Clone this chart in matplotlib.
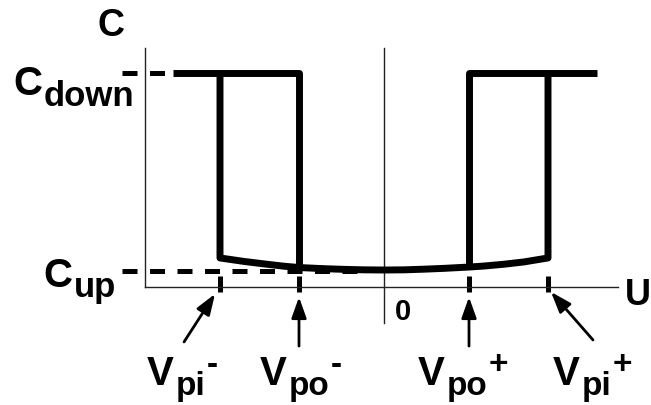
import matplotlib
matplotlib.use("Agg")
import matplotlib.pyplot as plt

# --- Switching levels and voltages (schematic units) ---
c_up = 1.0
c_down = 13.0
v_pi = 8.2
v_po = 4.25
u_top_left = -10.55
u_top_right = 10.65
u_dash_start = -13.1

# Up-state branch between the pull-in voltages
u_bottom = [-8.2, -7.0, -6.0, -5.0, -4.25, -3.0, -2.0, -1.0, 0.0,
            1.0, 2.0, 3.0, 4.25, 5.0, 6.0, 7.0, 8.2]
c_bottom = [1.76, 1.55, 1.40, 1.26, 1.18, 1.11, 1.07, 1.04, 1.03,
            1.04, 1.08, 1.13, 1.21, 1.27, 1.38, 1.52, 1.76]

# Voltage markers on the U axis: (main, subscript, superscript, position)
markers = [("V", "pi", "-", -v_pi), ("V", "po", "-", -v_po),
           ("V", "po", "+", v_po), ("V", "pi", "+", v_pi)]

FONT = "Liberation Sans"
LW = 5.0

fig = plt.figure(figsize=(6.51, 4.05), dpi=100)
ax = fig.add_axes([145 / 651, 118 / 405, 473 / 651, 239 / 405])
ax.set_xlim(-11.95, 11.7)
ax.set_ylim(0, 14.485)
for side in ("top", "right"):
    ax.spines[side].set_visible(False)
for side in ("left", "bottom"):
    ax.spines[side].set_linewidth(1.0)
    ax.spines[side].set_color("#222222")
ax.set_xticks([])
ax.set_yticks([])

# vertical C axis through U = 0, running below the U axis
ax.plot([0, 0], [14.485, -2.18], color="#222222", lw=1.0, clip_on=False)

# dashed reference levels
ax.plot([u_dash_start, u_top_left], [c_down, c_down], color="k", lw=3.6,
        dashes=(3.0, 2.5), dash_capstyle="butt", clip_on=False)
ax.plot([u_dash_start, -1.0], [c_up, c_up], color="k", lw=3.6,
        dashes=(3.0, 2.5), dash_capstyle="butt", clip_on=False)

# hysteresis loop
kw = dict(color="k", lw=LW, solid_joinstyle="round", solid_capstyle="butt", clip_on=False)
i_po_left = u_bottom.index(-v_po)
i_po_right = u_bottom.index(v_po)
ax.plot([u_top_left, -v_po, -v_po], [c_down, c_down, c_bottom[i_po_left]], **kw)
ax.plot([-v_pi] + u_bottom + [v_pi], [c_down] + c_bottom + [c_down], **kw)
ax.plot([v_po, v_po, u_top_right], [c_bottom[i_po_right], c_down, c_down], **kw)

# short marks on the U axis and arrows to the labels
tails = {(-v_pi): (-10.0, -3.33), (-v_po): (-4.25, -3.58),
         v_po: (4.25, -3.58), v_pi: (10.45, -3.21)}
tips = {(-v_pi): (-8.45, -0.42), (-v_po): (-4.25, -0.61),
        v_po: (4.25, -0.61), v_pi: (8.35, -0.30)}
label_x = {(-v_pi): -11.85, (-v_po): -6.2, v_po: 1.7, v_pi: 8.45}

for main, sub, sup, u in markers:
    ax.plot([u, u], [0.67, -0.28], color="k", lw=3.6, solid_capstyle="butt", clip_on=False)
    ax.annotate("", xy=tips[u], xytext=tails[u], annotation_clip=False,
                arrowprops=dict(arrowstyle="-|>,head_length=0.7,head_width=0.25",
                                mutation_scale=18, lw=2.0, color="k",
                                shrinkA=0, shrinkB=0))
    t_main = ax.text(label_x[u], -5.94, main, fontsize=29, fontweight="bold",
                     family=FONT, ha="left", va="baseline")
    t_sub = ax.annotate(sub, xy=(1, -6.55), xycoords=(t_main, "data"),
                        xytext=(1, 0), textcoords="offset points",
                        annotation_clip=False,
                        fontsize=24, fontweight="bold", family=FONT,
                        ha="left", va="baseline")
    ax.annotate(sup, xy=(1, -5.25), xycoords=(t_sub, "data"),
                xytext=(1.5, 0), textcoords="offset points",
                annotation_clip=False,
                fontsize=24, fontweight="bold", family=FONT,
                ha="left", va="baseline")

# axis labels
ax.text(-13.65, 15.82, "C", fontsize=27, fontweight="bold", family=FONT,
        ha="center", va="center")
ax.text(12.05, -1.09, "U", fontsize=26, fontweight="bold", family=FONT,
        ha="left", va="baseline")
ax.text(0.93, -2.0, "0", fontsize=21, fontweight="bold", family=FONT,
        ha="center", va="baseline")

# level labels
for txt, sub, x, y, ysub in [("C", "down", -18.55, 11.64, 10.97),
                             ("C", "up", -17.05, 0.0, -0.61)]:
    t = ax.text(x, y, txt, fontsize=29, fontweight="bold", family=FONT,
                ha="left", va="baseline")
    ax.annotate(sub, xy=(1, ysub), xycoords=(t, "data"), xytext=(1, 0),
                textcoords="offset points", annotation_clip=False,
                fontsize=25, fontweight="bold",
                family=FONT, ha="left", va="baseline")

fig.savefig("out.png", dpi=100)
